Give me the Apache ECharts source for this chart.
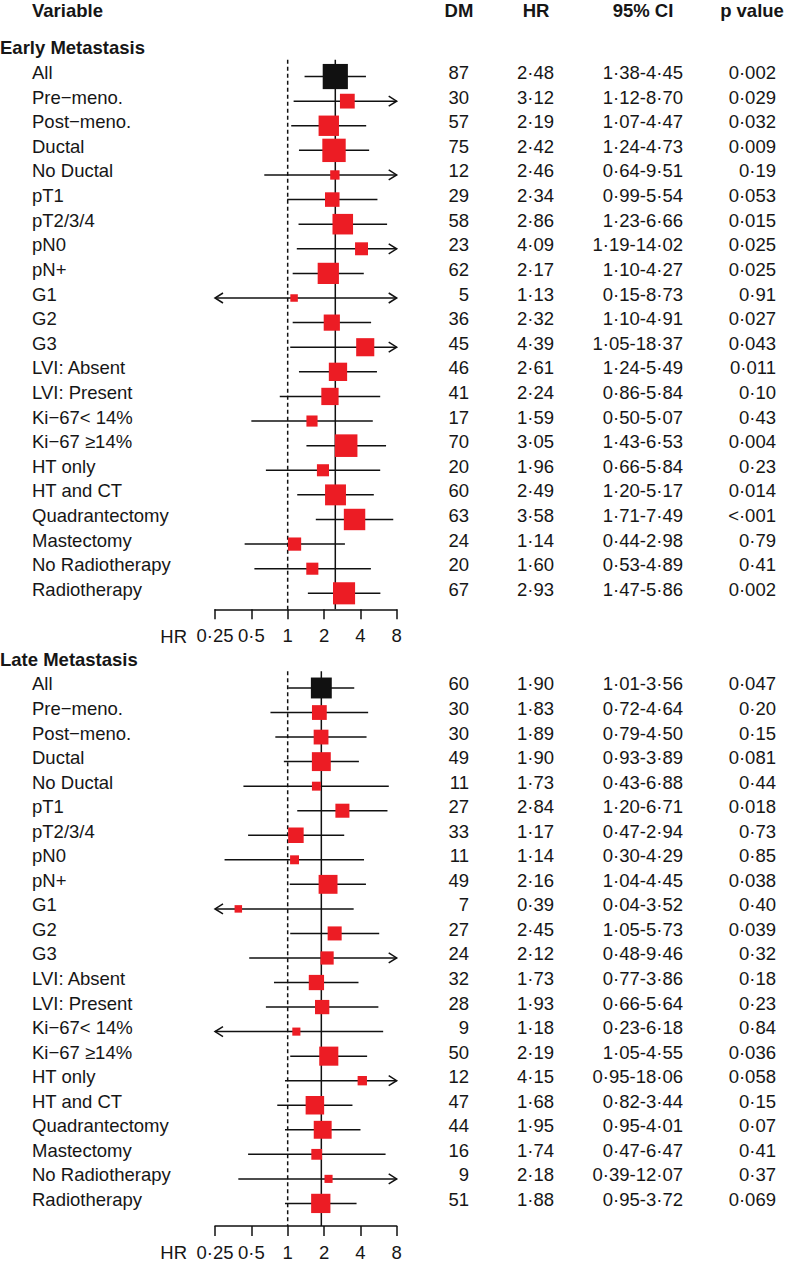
<!DOCTYPE html>
<html><head><meta charset="utf-8">
<script src="https://cdn.jsdelivr.net/npm/echarts@6/dist/echarts.min.js"></script>
<style>html,body{margin:0;padding:0;background:#fff}#c{width:785px;height:1262px}</style>
</head><body><div id="c"></div>
<script>
// ---------------- DATA ----------------
const variables = ['All','Pre\u2212meno.','Post\u2212meno.','Ductal','No Ductal','pT1','pT2/3/4','pN0','pN+','G1','G2','G3',
  'LVI: Absent','LVI: Present','Ki\u221267< 14%','Ki\u221267 \u226514%','HT only','HT and CT','Quadrantectomy','Mastectomy','No Radiotherapy','Radiotherapy'];

const earlyDM = [87,30,57,75,12,29,58,23,62,5,36,45,46,41,17,70,20,60,63,24,20,67];
const earlyHR = [2.48,3.12,2.19,2.42,2.46,2.34,2.86,4.09,2.17,1.13,2.32,4.39,2.61,2.24,1.59,3.05,1.96,2.49,3.58,1.14,1.60,2.93];
const earlyLo = [1.38,1.12,1.07,1.24,0.64,0.99,1.23,1.19,1.10,0.15,1.10,1.05,1.24,0.86,0.50,1.43,0.66,1.20,1.71,0.44,0.53,1.47];
const earlyHi = [4.45,8.70,4.47,4.73,9.51,5.54,6.66,14.02,4.27,8.73,4.91,18.37,5.49,5.84,5.07,6.53,5.84,5.17,7.49,2.98,4.89,5.86];
const earlyP  = ['0·002','0·029','0·032','0·009','0·19','0·053','0·015','0·025','0·025','0·91','0·027','0·043','0·011','0·10','0·43','0·004','0·23','0·014','<·001','0·79','0·41','0·002'];

const lateDM = [60,30,30,49,11,27,33,11,49,7,27,24,32,28,9,50,12,47,44,16,9,51];
const lateHR = [1.90,1.83,1.89,1.90,1.73,2.84,1.17,1.14,2.16,0.39,2.45,2.12,1.73,1.93,1.18,2.19,4.15,1.68,1.95,1.74,2.18,1.88];
const lateLo = [1.01,0.72,0.79,0.93,0.43,1.20,0.47,0.30,1.04,0.04,1.05,0.48,0.77,0.66,0.23,1.05,0.95,0.82,0.95,0.47,0.39,0.95];
const lateHi = [3.56,4.64,4.50,3.89,6.88,6.71,2.94,4.29,4.45,3.52,5.73,9.46,3.86,5.64,6.18,4.55,18.06,3.44,4.01,6.47,12.07,3.72];
const lateP  = ['0·047','0·20','0·15','0·081','0·44','0·018','0·73','0·85','0·038','0·40','0·039','0·32','0·18','0·23','0·84','0·036','0·058','0·15','0·07','0·41','0·37','0·069'];

const tickValues = [0.25,0.5,1,2,4,8];
const tickLabels = ['0·25','0·5','1','2','4','8'];
const headers = ['Variable','DM','HR','95% CI','p value'];
const sectionTitles = ['Early Metastasis','Late Metastasis'];

// ---------------- STYLE / LAYOUT ----------------
const FONT = '"Liberation Sans", Arial, Helvetica, sans-serif';
const FS = 18.5;
const TXT = '#161616';
const RED = '#ec1c24';
const BLK = '#111111';
const AX_MIN = 0.25, AX_MAX = 8;
const BOX_K = 2.7, BOX_MIN = 7.5;   // box side ~ sqrt(DM)
const fmt = v => v.toFixed(2).replace('.', '\u00b7');

const chart = echarts.init(document.getElementById('c'), null, {renderer: 'svg'});

const sections = [
  {dm: earlyDM, hr: earlyHR, lo: earlyLo, hi: earlyHi, p: earlyP, top: 59.8, yMin: -0.68, yMax: 21.65, height: 549.5},
  {dm: lateDM, hr: lateHR, lo: lateLo, hi: lateHi, p: lateP, top: 671.3, yMin: -0.68, yMax: 21.92, height: 556.4}
];

const grids = [], xAxes = [], yAxes = [], series = [];

sections.forEach((s, k) => {
  grids.push({left: 215, width: 181.7, top: s.top, height: s.height, containLabel: false});
  xAxes.push({
    type: 'log', logBase: 2, min: AX_MIN, max: AX_MAX, gridIndex: k, splitNumber: 5, position: 'bottom',
    axisLine: {show: true, onZero: false, lineStyle: {color: BLK, width: 1.5}},
    axisTick: {show: true, inside: false, length: 10, lineStyle: {color: BLK, width: 1.5}},
    splitLine: {show: false},
    axisLabel: {
      margin: 17, color: TXT, fontSize: FS, fontFamily: FONT,
      formatter: v => { const i = tickValues.findIndex(t => Math.abs(t - v) < 1e-6); return i >= 0 ? tickLabels[i] : ''; }
    }
  });
  yAxes.push({type: 'value', gridIndex: k, inverse: true, min: s.yMin, max: s.yMax, show: false});

  // reference line at HR = 1 (dashed) and overall HR (solid)
  series.push({
    type: 'line', xAxisIndex: k, yAxisIndex: k, symbol: 'none', silent: true, z: 1,
    data: [[1, s.yMin], [1, s.yMax]],
    lineStyle: {color: BLK, width: 1.5, type: [4, 3]}
  });
  series.push({
    type: 'line', xAxisIndex: k, yAxisIndex: k, symbol: 'none', silent: true, z: 1,
    data: [[s.hr[0], s.yMin], [s.hr[0], s.yMax]],
    lineStyle: {color: BLK, width: 1.5}
  });

  // CI lines + boxes
  series.push({
    type: 'custom', xAxisIndex: k, yAxisIndex: k, z: 3, clip: false, silent: true,
    data: s.hr.map((h, i) => [h, i, s.lo[i], s.hi[i], s.dm[i]]),
    renderItem: (params, api) => {
      const i = api.value(1), lo = api.value(2), hi = api.value(3), h = api.value(0), dm = api.value(4);
      const y = api.coord([1, i])[1];
      const xl = api.coord([Math.max(lo, AX_MIN), i])[0];
      const xr = api.coord([Math.min(hi, AX_MAX), i])[0];
      const xc = api.coord([h, i])[0];
      const side = Math.max(BOX_MIN, BOX_K * Math.sqrt(dm));
      const st = {stroke: BLK, lineWidth: 1.5, fill: null};
      const ch = [{type: 'line', shape: {x1: xl, y1: y, x2: xr, y2: y}, style: st}];
      if (hi > AX_MAX) ch.push({type: 'polyline', shape: {points: [[xr - 8, y - 5], [xr, y], [xr - 8, y + 5]]}, style: st});
      if (lo < AX_MIN) ch.push({type: 'polyline', shape: {points: [[xl + 8, y - 5], [xl, y], [xl + 8, y + 5]]}, style: st});
      ch.push({type: 'rect', shape: {x: xc - side / 2, y: y - side / 2, width: side, height: side},
        style: {fill: i === 0 ? BLK : RED, stroke: null}});
      return {type: 'group', children: ch};
    }
  });

  // table text
  series.push({
    type: 'custom', xAxisIndex: k, yAxisIndex: k, z: 4, clip: false, silent: true,
    data: variables.map((v, i) => [1, i]),
    renderItem: (params, api) => {
      const i = api.value(1);
      const y = api.coord([1, i])[1] - 4;
      const t = (text, x, align) => ({type: 'text', style: {text, x, y, align, verticalAlign: 'middle',
        fill: TXT, font: FS + 'px ' + FONT}});
      return {type: 'group', children: [
        t(variables[i], 32, 'left'),
        t(String(s.dm[i]), 469, 'right'),
        t(fmt(s.hr[i]), 554, 'right'),
        t(fmt(s.lo[i]) + '-' + fmt(s.hi[i]), 683, 'right'),
        t(s.p[i], 776, 'right')
      ]};
    }
  });

  // section title (row -1)
  series.push({
    type: 'custom', xAxisIndex: k, yAxisIndex: k, z: 4, clip: false, silent: true,
    data: [[1, -1]],
    renderItem: (params, api) => {
      const y = api.coord([1, -1])[1] - 4;
      return {type: 'text', style: {text: sectionTitles[k], x: 0, y, align: 'left', verticalAlign: 'middle',
        fill: TXT, font: 'bold ' + FS + 'px ' + FONT}};
    }
  });
});

const hdrX = [[32, 'left'], [459, 'center'], [536, 'center'], [643, 'center'], [752, 'center']];
const graphic = headers.map((h, i) => ({
  type: 'text', x: hdrX[i][0], y: 10.5,
  style: {text: h, align: hdrX[i][1], verticalAlign: 'middle', fill: TXT, font: 'bold ' + FS + 'px ' + FONT}
}));
// "HR" prefix on each axis
[636.5, 1252.5].forEach(yy => graphic.push({
  type: 'text', x: 187, y: yy,
  style: {text: 'HR', align: 'right', verticalAlign: 'middle', fill: TXT, font: FS + 'px ' + FONT}
}));

chart.setOption({
  animation: false,
  backgroundColor: '#ffffff',
  grid: grids, xAxis: xAxes, yAxis: yAxes, series, graphic
});
</script>
</body></html>
